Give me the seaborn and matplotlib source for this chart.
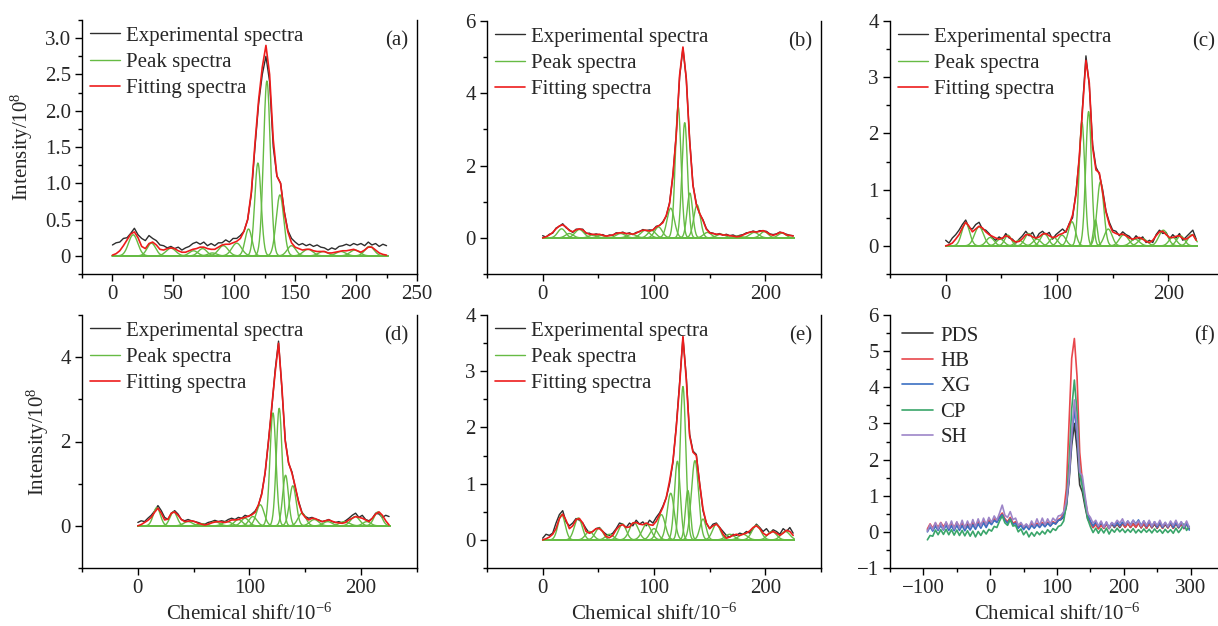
"""
13C NMR spectra with peak fitting, six panels
"""

import numpy as np
import pandas as pd
import matplotlib
matplotlib.use('Agg')
import matplotlib.pyplot as plt
from matplotlib.ticker import MultipleLocator, FuncFormatter
import seaborn as sns

# ---- data ---------------------------------------------------------------
# panels (a)-(e): spectra sampled every 3 ppm from 0 to 225
shift_ae = list(range(0, 226, 3))

a_exp = [0.15, 0.18, 0.19, 0.24, 0.25, 0.31, 0.38, 0.29, 0.24, 0.21,
         0.28, 0.24, 0.21, 0.15, 0.14, 0.11, 0.13, 0.10, 0.12, 0.08,
         0.11, 0.13, 0.17, 0.19, 0.16, 0.19, 0.14, 0.17, 0.14, 0.18,
         0.18, 0.22, 0.19, 0.24, 0.24, 0.28, 0.34, 0.50, 0.85, 1.50,
         2.10, 2.50, 2.75, 2.40, 1.50, 1.10, 1.00, 0.62, 0.35, 0.24,
         0.19, 0.15, 0.17, 0.14, 0.16, 0.13, 0.15, 0.12, 0.11, 0.08,
         0.11, 0.09, 0.13, 0.14, 0.16, 0.14, 0.17, 0.15, 0.17, 0.14,
         0.19, 0.15, 0.17, 0.13, 0.16, 0.14]
a_fit = [0.01, 0.03, 0.07, 0.14, 0.22, 0.30, 0.33, 0.25, 0.13, 0.10,
         0.17, 0.19, 0.15, 0.09, 0.08, 0.10, 0.11, 0.10, 0.07, 0.05,
         0.05, 0.07, 0.09, 0.10, 0.12, 0.12, 0.10, 0.09, 0.09, 0.12,
         0.15, 0.16, 0.16, 0.18, 0.20, 0.24, 0.34, 0.50, 0.88, 1.55,
         2.15, 2.60, 2.90, 2.50, 1.60, 1.10, 1.00, 0.60, 0.33, 0.18,
         0.12, 0.10, 0.08, 0.09, 0.09, 0.07, 0.06, 0.06, 0.06, 0.04,
         0.04, 0.05, 0.06, 0.07, 0.07, 0.08, 0.09, 0.07, 0.05, 0.08,
         0.12, 0.12, 0.08, 0.04, 0.02, 0.01]
a_centers = [17, 32, 48, 66.5, 74, 82, 91, 102, 111.7, 119.4, 126.8, 137.5, 147, 160.5, 173, 187.5, 199, 211]
a_heights = [0.29, 0.175, 0.105, 0.07, 0.10, 0.04, 0.14, 0.175, 0.37, 1.28, 2.41, 0.84, 0.14, 0.09, 0.06, 0.06, 0.08, 0.13]
a_widths = [3.8, 3.5, 4.0, 3.5, 3.5, 3.5, 4.0, 4.0, 2.8, 2.6, 2.8, 3.1, 3.5, 4.0, 4.0, 4.0, 4.0, 3.8]

b_exp = [0.06, 0.02, 0.10, 0.13, 0.27, 0.32, 0.39, 0.28, 0.22, 0.15,
         0.24, 0.24, 0.24, 0.12, 0.13, 0.08, 0.11, 0.08, 0.09, 0.04,
         0.08, 0.07, 0.14, 0.13, 0.16, 0.11, 0.14, 0.09, 0.15, 0.17,
         0.23, 0.20, 0.22, 0.21, 0.32, 0.34, 0.45, 0.60, 0.98, 1.72,
         2.88, 4.45, 5.25, 4.40, 2.72, 1.47, 0.95, 0.66, 0.50, 0.26,
         0.15, 0.13, 0.09, 0.12, 0.07, 0.10, 0.06, 0.08, 0.04, 0.07,
         0.09, 0.14, 0.15, 0.19, 0.16, 0.20, 0.19, 0.18, 0.11, 0.09,
         0.11, 0.16, 0.13, 0.10, 0.07, 0.06]
b_fit = [0.00, 0.03, 0.08, 0.15, 0.25, 0.33, 0.36, 0.30, 0.20, 0.17,
         0.22, 0.25, 0.22, 0.14, 0.10, 0.10, 0.09, 0.10, 0.07, 0.05,
         0.06, 0.08, 0.12, 0.14, 0.14, 0.12, 0.12, 0.10, 0.13, 0.18,
         0.21, 0.21, 0.19, 0.22, 0.30, 0.35, 0.42, 0.62, 0.95, 1.75,
         2.85, 4.50, 5.28, 4.40, 2.70, 1.45, 0.92, 0.68, 0.48, 0.24,
         0.14, 0.12, 0.10, 0.10, 0.08, 0.08, 0.06, 0.05, 0.03, 0.04,
         0.08, 0.12, 0.16, 0.17, 0.16, 0.18, 0.20, 0.16, 0.10, 0.07,
         0.10, 0.15, 0.14, 0.08, 0.07, 0.05]
b_centers = [17, 24, 33, 45, 52, 70, 80, 92, 98, 104, 115, 121.7, 127.6, 132.2, 138.7, 148, 160, 175, 190, 199, 215]
b_heights = [0.25, 0.12, 0.23, 0.08, 0.07, 0.12, 0.10, 0.21, 0.20, 0.30, 0.82, 3.63, 3.19, 1.24, 0.91, 0.15, 0.10, 0.05, 0.15, 0.17, 0.13]
b_widths = [3.5, 3.5, 4.0, 3.5, 3.5, 4.0, 4.0, 4.0, 3.5, 3.5, 3.3, 2.6, 2.5, 2.5, 3.0, 3.5, 4.0, 4.0, 4.0, 3.5, 3.5]

c_exp = [0.10, 0.05, 0.14, 0.20, 0.28, 0.38, 0.46, 0.32, 0.30, 0.38,
         0.42, 0.30, 0.28, 0.22, 0.14, 0.10, 0.16, 0.12, 0.22, 0.14,
         0.12, 0.05, 0.12, 0.18, 0.26, 0.18, 0.24, 0.12, 0.22, 0.26,
         0.20, 0.24, 0.12, 0.20, 0.25, 0.30, 0.24, 0.40, 0.50, 0.95,
         1.55, 2.50, 3.38, 2.85, 1.80, 1.40, 1.28, 1.00, 0.62, 0.42,
         0.28, 0.26, 0.18, 0.25, 0.20, 0.17, 0.10, 0.18, 0.12, 0.16,
         0.06, 0.10, 0.06, 0.20, 0.28, 0.22, 0.24, 0.12, 0.20, 0.14,
         0.22, 0.10, 0.16, 0.22, 0.28, 0.12]
c_fit = [0.00, 0.02, 0.05, 0.12, 0.20, 0.32, 0.42, 0.35, 0.25, 0.30,
         0.35, 0.32, 0.25, 0.20, 0.17, 0.14, 0.12, 0.14, 0.18, 0.16,
         0.10, 0.07, 0.08, 0.13, 0.20, 0.20, 0.16, 0.14, 0.16, 0.21,
         0.22, 0.18, 0.15, 0.16, 0.20, 0.22, 0.26, 0.38, 0.55, 0.90,
         1.58, 2.45, 3.30, 2.90, 1.75, 1.35, 1.30, 0.95, 0.60, 0.38,
         0.25, 0.22, 0.20, 0.21, 0.18, 0.14, 0.12, 0.14, 0.15, 0.12,
         0.08, 0.06, 0.10, 0.18, 0.25, 0.26, 0.20, 0.15, 0.15, 0.17,
         0.18, 0.13, 0.12, 0.16, 0.20, 0.10]
c_centers = [18, 30, 40, 49, 56, 66, 74.6, 82, 88.7, 97, 104.5, 113.4, 122.4, 128.4, 134.5, 139, 146, 160, 170, 177, 195.5, 204, 211, 221]
c_heights = [0.41, 0.34, 0.15, 0.12, 0.19, 0.10, 0.22, 0.12, 0.22, 0.15, 0.19, 0.43, 2.20, 2.39, 0.46, 1.14, 0.30, 0.20, 0.12, 0.13, 0.28, 0.15, 0.18, 0.20]
c_widths = [3.5, 4.0, 3.5, 3.5, 3.0, 3.5, 3.5, 3.5, 3.5, 3.5, 3.5, 3.2, 2.6, 2.6, 1.8, 3.0, 3.5, 4.0, 4.0, 4.0, 4.0, 3.5, 3.5, 3.5]

d_exp = [0.08, 0.12, 0.10, 0.18, 0.25, 0.35, 0.48, 0.36, 0.20, 0.15,
         0.30, 0.36, 0.28, 0.15, 0.12, 0.15, 0.12, 0.10, 0.08, 0.05,
         0.04, 0.08, 0.10, 0.13, 0.10, 0.12, 0.10, 0.15, 0.18, 0.15,
         0.20, 0.18, 0.25, 0.22, 0.28, 0.35, 0.48, 0.78, 1.25, 2.02,
         2.80, 3.70, 4.38, 3.25, 2.05, 1.48, 1.28, 0.90, 0.58, 0.32,
         0.22, 0.18, 0.20, 0.16, 0.14, 0.10, 0.12, 0.15, 0.10, 0.08,
         0.10, 0.07, 0.12, 0.18, 0.25, 0.30, 0.20, 0.25, 0.15, 0.12,
         0.18, 0.30, 0.28, 0.20, 0.25, 0.22]
d_fit = [0.00, 0.03, 0.08, 0.13, 0.20, 0.32, 0.42, 0.30, 0.14, 0.16,
         0.30, 0.33, 0.25, 0.15, 0.10, 0.11, 0.12, 0.10, 0.06, 0.04,
         0.02, 0.04, 0.07, 0.09, 0.10, 0.09, 0.08, 0.10, 0.14, 0.14,
         0.15, 0.18, 0.20, 0.23, 0.26, 0.32, 0.50, 0.75, 1.27, 2.00,
         2.85, 3.64, 4.33, 3.30, 2.00, 1.50, 1.25, 0.93, 0.55, 0.30,
         0.20, 0.14, 0.18, 0.17, 0.13, 0.10, 0.12, 0.14, 0.11, 0.08,
         0.07, 0.06, 0.08, 0.14, 0.18, 0.22, 0.20, 0.18, 0.14, 0.10,
         0.18, 0.28, 0.33, 0.25, 0.12, 0.02]
d_centers = [17, 32, 45, 57, 69, 80, 90, 96, 103, 109.6, 121, 126.6, 132.3, 138.8, 147, 158, 170, 185, 194.6, 205, 215]
d_heights = [0.43, 0.33, 0.10, 0.05, 0.10, 0.10, 0.15, 0.18, 0.22, 0.50, 2.68, 2.79, 1.20, 0.95, 0.30, 0.15, 0.10, 0.10, 0.22, 0.10, 0.33]
d_widths = [3.2, 3.2, 4.0, 4.0, 4.0, 4.0, 3.5, 3.5, 3.5, 3.5, 2.7, 2.6, 2.6, 3.0, 3.5, 4.0, 4.0, 4.5, 4.0, 3.5, 3.5]

e_exp = [0.03, 0.10, 0.08, 0.12, 0.30, 0.45, 0.52, 0.32, 0.25, 0.30,
         0.38, 0.35, 0.30, 0.20, 0.12, 0.15, 0.20, 0.22, 0.15, 0.10,
         0.08, 0.12, 0.20, 0.30, 0.28, 0.22, 0.30, 0.25, 0.35, 0.28,
         0.32, 0.25, 0.35, 0.30, 0.40, 0.48, 0.60, 0.75, 1.00, 1.38,
         2.02, 2.80, 3.60, 2.90, 1.88, 1.58, 1.52, 1.00, 0.52, 0.30,
         0.20, 0.28, 0.30, 0.22, 0.15, 0.08, 0.05, 0.10, 0.08, 0.12,
         0.10, 0.15, 0.12, 0.20, 0.28, 0.22, 0.15, 0.20, 0.12, 0.18,
         0.15, 0.10, 0.20, 0.15, 0.22, 0.12]
e_fit = [0.00, 0.02, 0.05, 0.10, 0.20, 0.38, 0.46, 0.35, 0.20, 0.25,
         0.36, 0.38, 0.30, 0.15, 0.12, 0.15, 0.20, 0.20, 0.15, 0.06,
         0.04, 0.08, 0.18, 0.25, 0.27, 0.22, 0.23, 0.30, 0.31, 0.28,
         0.27, 0.30, 0.27, 0.26, 0.33, 0.45, 0.58, 0.75, 1.05, 1.40,
         2.00, 2.75, 3.62, 2.85, 1.85, 1.56, 1.50, 1.00, 0.55, 0.30,
         0.20, 0.25, 0.28, 0.22, 0.10, 0.03, 0.05, 0.08, 0.10, 0.08,
         0.10, 0.12, 0.16, 0.22, 0.25, 0.20, 0.12, 0.08, 0.12, 0.15,
         0.12, 0.08, 0.12, 0.17, 0.15, 0.08]
e_centers = [17, 32, 42, 50.7, 60, 71.6, 82, 93.4, 100, 106.6, 115, 121, 126, 130.4, 136.8, 144, 156, 168, 180, 192, 206, 218]
e_heights = [0.45, 0.39, 0.15, 0.21, 0.10, 0.28, 0.31, 0.28, 0.20, 0.45, 0.83, 1.40, 2.73, 0.88, 1.41, 0.37, 0.28, 0.10, 0.10, 0.26, 0.15, 0.15]
e_widths = [3.2, 3.5, 3.5, 3.5, 3.5, 3.5, 4.0, 4.0, 3.5, 3.5, 3.2, 2.6, 2.6, 2.2, 3.2, 2.8, 3.5, 4.0, 4.0, 4.0, 4.0, 4.0]

# panel (f): the five samples, sampled every 4 ppm from -94 to 298
shift_f = list(range(-94, 299, 4))
samples_f = ['PDS', 'HB', 'XG', 'CP', 'SH']

pds = [0.05, 0.16, 0.06, 0.18, 0.08, 0.20, 0.08, 0.21, 0.09, 0.20,
       0.08, 0.22, 0.09, 0.21, 0.08, 0.22, 0.10, 0.24, 0.12, 0.26,
       0.15, 0.28, 0.18, 0.30, 0.24, 0.33, 0.28, 0.40, 0.46, 0.34,
       0.26, 0.38, 0.22, 0.26, 0.12, 0.20, 0.10, 0.19, 0.09, 0.21,
       0.12, 0.22, 0.14, 0.24, 0.16, 0.25, 0.17, 0.27, 0.22, 0.32,
       0.34, 0.42, 0.70, 1.40, 2.40, 3.00, 2.30, 1.30, 1.10, 0.70,
       0.35, 0.26, 0.12, 0.24, 0.10, 0.23, 0.10, 0.22, 0.09, 0.22,
       0.12, 0.22, 0.12, 0.23, 0.13, 0.24, 0.12, 0.23, 0.13, 0.24,
       0.11, 0.23, 0.10, 0.24, 0.11, 0.22, 0.10, 0.23, 0.10, 0.21,
       0.11, 0.22, 0.10, 0.23, 0.11, 0.22, 0.09, 0.21, 0.10]
hb = [0.08, 0.22, 0.10, 0.24, 0.12, 0.26, 0.14, 0.25, 0.12, 0.24,
      0.12, 0.26, 0.14, 0.25, 0.12, 0.26, 0.15, 0.28, 0.16, 0.30,
      0.18, 0.32, 0.20, 0.33, 0.26, 0.36, 0.30, 0.42, 0.52, 0.36,
      0.28, 0.40, 0.24, 0.28, 0.14, 0.22, 0.10, 0.20, 0.10, 0.22,
      0.14, 0.24, 0.16, 0.26, 0.18, 0.27, 0.18, 0.28, 0.24, 0.34,
      0.38, 0.55, 1.20, 3.00, 4.80, 5.35, 4.30, 2.20, 1.40, 0.90,
      0.50, 0.25, 0.12, 0.20, 0.08, 0.18, 0.10, 0.22, 0.10, 0.24,
      0.14, 0.24, 0.14, 0.25, 0.12, 0.24, 0.13, 0.22, 0.12, 0.25,
      0.12, 0.24, 0.10, 0.23, 0.12, 0.25, 0.11, 0.23, 0.10, 0.24,
      0.11, 0.23, 0.10, 0.24, 0.12, 0.22, 0.10, 0.21, 0.12]
xg = [0.00, 0.14, 0.02, 0.16, 0.04, 0.18, 0.05, 0.18, 0.04, 0.17,
      0.03, 0.18, 0.04, 0.17, 0.03, 0.16, 0.05, 0.19, 0.07, 0.22,
      0.10, 0.25, 0.12, 0.27, 0.20, 0.32, 0.26, 0.40, 0.48, 0.32,
      0.24, 0.36, 0.20, 0.24, 0.10, 0.18, 0.06, 0.16, 0.06, 0.18,
      0.10, 0.20, 0.12, 0.22, 0.14, 0.24, 0.16, 0.25, 0.22, 0.32,
      0.35, 0.45, 0.75, 1.50, 2.60, 3.40, 2.70, 1.60, 1.30, 0.85,
      0.45, 0.30, 0.16, 0.28, 0.14, 0.27, 0.13, 0.26, 0.12, 0.25,
      0.15, 0.26, 0.16, 0.27, 0.18, 0.30, 0.20, 0.32, 0.22, 0.33,
      0.17, 0.30, 0.15, 0.29, 0.14, 0.28, 0.13, 0.27, 0.12, 0.26,
      0.13, 0.27, 0.12, 0.26, 0.13, 0.27, 0.11, 0.24, 0.05]
cp = [-0.22, -0.10, -0.12, 0.05, -0.08, 0.06, -0.07, 0.07, -0.08, 0.06,
      -0.09, 0.05, -0.10, 0.04, -0.11, 0.03, -0.12, 0.02, -0.14, 0.01,
      -0.10, 0.04, -0.06, 0.07, 0.02, 0.15, 0.12, 0.30, 0.44, 0.25,
      0.18, 0.34, 0.16, 0.18, 0.00, 0.08, -0.08, 0.02, -0.14, -0.02,
      -0.12, 0.00, -0.08, 0.02, -0.06, 0.06, -0.02, 0.09, 0.04, 0.15,
      0.18, 0.30, 0.75, 1.90, 3.40, 4.20, 3.30, 1.60, 1.25, 0.80,
      0.35, 0.14, -0.02, 0.10, -0.04, 0.09, -0.03, 0.10, -0.06, 0.07,
      -0.01, 0.10, 0.00, 0.08, -0.02, 0.07, -0.01, 0.09, -0.03, 0.06,
      -0.02, 0.08, -0.01, 0.07, -0.03, 0.08, -0.01, 0.06, -0.04, 0.07,
      -0.02, 0.06, -0.04, 0.10, -0.02, 0.08, 0.22, 0.04, 0.15]
sh = [0.02, 0.20, 0.06, 0.26, 0.08, 0.25, 0.06, 0.28, 0.10, 0.30,
      0.08, 0.28, 0.10, 0.32, 0.10, 0.30, 0.12, 0.34, 0.14, 0.36,
      0.16, 0.38, 0.20, 0.40, 0.26, 0.44, 0.32, 0.52, 0.74, 0.46,
      0.40, 0.56, 0.34, 0.38, 0.18, 0.26, 0.14, 0.22, 0.13, 0.30,
      0.16, 0.36, 0.18, 0.38, 0.20, 0.36, 0.22, 0.38, 0.30, 0.44,
      0.46, 0.55, 0.85, 1.50, 2.70, 3.65, 2.90, 1.65, 1.55, 1.00,
      0.50, 0.40, 0.24, 0.32, 0.16, 0.30, 0.12, 0.28, 0.10, 0.26,
      0.20, 0.32, 0.24, 0.36, 0.20, 0.30, 0.18, 0.32, 0.20, 0.30,
      0.16, 0.30, 0.18, 0.32, 0.16, 0.28, 0.18, 0.32, 0.16, 0.26,
      0.15, 0.30, 0.18, 0.32, 0.16, 0.28, 0.14, 0.30, 0.12]

# ---- style ----------------------------------------------------------------
EXP_COLOR = '#2e2e2e'
PEAK_COLOR = '#66bb44'
FIT_COLOR = '#ee1c1c'
F_COLORS = ['#3a3a3a', '#e8474c', '#3b6fc2', '#3aa56a', '#9d85c8']
FS = 15

sns.set_theme(style='ticks')
plt.rcParams['font.family'] = ['Liberation Serif', 'DejaVu Serif']
plt.rcParams['mathtext.fontset'] = 'custom'
plt.rcParams['mathtext.rm'] = 'Liberation Serif'
plt.rcParams['mathtext.it'] = 'Liberation Serif:italic'
plt.rcParams['axes.unicode_minus'] = True

W, H = 1218, 626
peak_grid = np.linspace(0, 226, 700)


def box(left, top, right, bottom):
    return [left / W, 1 - bottom / H, (right - left) / W, (bottom - top) / H]


def peak_frame(centers, heights, widths):
    parts = []
    for k, (c, h, w) in enumerate(zip(centers, heights, widths)):
        y = h * np.exp(-(peak_grid - c) ** 2 / (2 * w ** 2))
        parts.append(pd.DataFrame({'shift': peak_grid, 'intensity': y, 'peak': k}))
    return pd.concat(parts, ignore_index=True)


def fmt_plain(v, pos):
    return ('%g' % v).replace('-', '\u2212')


def fmt_half(v, pos):
    if abs(v) < 1e-9:
        return '0'
    return ('%.1f' % v).replace('-', '\u2212')


def style(ax, xlim, ylim, xmaj, xmin, ymaj, ymin, yfmt, tag):
    ax.set_xlim(*xlim)
    ax.set_ylim(*ylim)
    ax.xaxis.set_major_locator(MultipleLocator(xmaj))
    ax.xaxis.set_minor_locator(MultipleLocator(xmin))
    ax.yaxis.set_major_locator(MultipleLocator(ymaj))
    ax.yaxis.set_minor_locator(MultipleLocator(ymin))
    ax.xaxis.set_major_formatter(FuncFormatter(fmt_plain))
    ax.yaxis.set_major_formatter(FuncFormatter(yfmt))
    ax.spines['top'].set_visible(False)
    for s in ['left', 'bottom', 'right']:
        ax.spines[s].set_color('black')
        ax.spines[s].set_linewidth(1.0)
    ax.tick_params(which='both', direction='out', color='black', width=1.0,
                   top=False, right=False, labelsize=FS, pad=3)
    ax.tick_params(which='major', length=5)
    ax.tick_params(which='minor', length=3)
    ax.set_xlabel('')
    ax.set_ylabel('')
    ax.grid(False)
    ax.text(1 - 9 / 334, 1 - 11 / 254, tag, transform=ax.transAxes,
            ha='right', va='top', fontsize=FS)


def fit_panel(ax, exp, fit, centers, heights, widths):
    sns.lineplot(x=shift_ae, y=exp, ax=ax, color=EXP_COLOR, lw=1.0, estimator=None)
    sns.lineplot(data=peak_frame(centers, heights, widths), x='shift', y='intensity',
                 units='peak', estimator=None, ax=ax, color=PEAK_COLOR, lw=1.0)
    sns.lineplot(x=shift_ae, y=fit, ax=ax, color=FIT_COLOR, lw=1.2, estimator=None)
    lines = ax.get_lines()
    ax.legend([lines[0], lines[1], lines[-1]],
              ['Experimental spectra', 'Peak spectra', 'Fitting spectra'],
              loc='upper left', bbox_to_anchor=(8 / 334, 1 - 6 / 254),
              frameon=False, fontsize=FS, handlelength=1.45, handletextpad=0.3,
              labelspacing=0.32, borderaxespad=0, borderpad=0)


fig = plt.figure(figsize=(W / 100, H / 100), dpi=100)

ax_a = fig.add_axes(box(82, 20, 417, 274))
ax_b = fig.add_axes(box(487, 21, 821, 274))
ax_c = fig.add_axes(box(890, 21, 1224, 274))
ax_d = fig.add_axes(box(82, 315, 417, 568))
ax_e = fig.add_axes(box(487, 315, 821, 568))
ax_f = fig.add_axes(box(890, 315, 1224, 568))

fit_panel(ax_a, a_exp, a_fit, a_centers, a_heights, a_widths)
style(ax_a, (-25, 250), (-0.25, 3.25), 50, 25, 0.5, 0.25, fmt_half, '(a)')

fit_panel(ax_b, b_exp, b_fit, b_centers, b_heights, b_widths)
style(ax_b, (-50, 250), (-1, 6), 100, 50, 2, 1, fmt_plain, '(b)')

fit_panel(ax_c, c_exp, c_fit, c_centers, c_heights, c_widths)
style(ax_c, (-50, 250), (-0.5, 4), 100, 50, 1, 0.5, fmt_plain, '(c)')

fit_panel(ax_d, d_exp, d_fit, d_centers, d_heights, d_widths)
style(ax_d, (-50, 250), (-1, 5), 100, 50, 2, 1, fmt_plain, '(d)')

fit_panel(ax_e, e_exp, e_fit, e_centers, e_heights, e_widths)
style(ax_e, (-50, 250), (-0.5, 4), 100, 50, 1, 0.5, fmt_plain, '(e)')

# panel (f): all samples together
for name, vals, col in zip(samples_f, [pds, hb, xg, cp, sh], F_COLORS):
    sns.lineplot(x=shift_f, y=vals, ax=ax_f, color=col, lw=1.2, estimator=None, label=name)
ax_f.legend(loc='upper left', bbox_to_anchor=(12 / 334, 1 - 11 / 253),
            frameon=False, fontsize=FS, handlelength=1.5, handletextpad=0.35,
            labelspacing=0.28, borderaxespad=0, borderpad=0)
style(ax_f, (-150, 350), (-1, 6), 100, 50, 1, 0.5, fmt_plain, '(f)')

ylab = 'Intensity/10$^{8}$'
xlab = 'Chemical shift/10$^{-6}$'
for ax in (ax_a, ax_d):
    ax.set_ylabel(ylab, fontsize=FS, labelpad=7)
for ax in (ax_d, ax_e, ax_f):
    ax.set_xlabel(xlab, fontsize=FS, labelpad=4)

fig.savefig('out.png', dpi=100)
